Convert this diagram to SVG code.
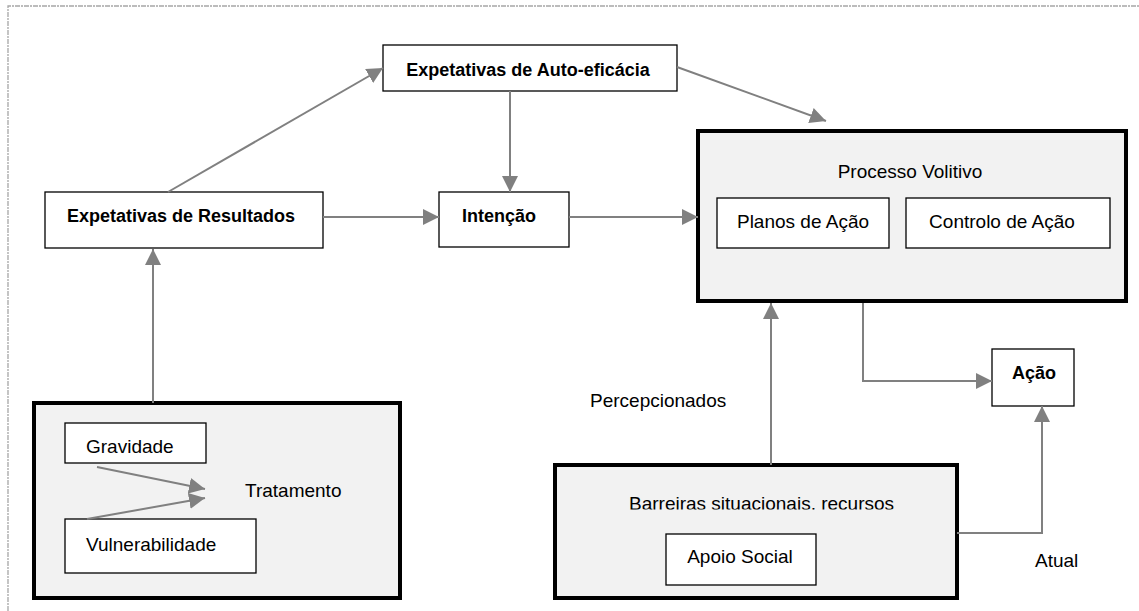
<svg xmlns="http://www.w3.org/2000/svg" width="1139" height="611" viewBox="0 0 1139 611">
<style>
text{font-family:"Liberation Sans",Arial,sans-serif;fill:#000}
.r{font-size:19px}
.b{font-size:18px;font-weight:bold}
.m{text-anchor:middle}
.box{fill:#fff;stroke:#000;stroke-width:1.3}
.grp{fill:#f2f2f2;stroke:#000;stroke-width:4}
.c{fill:none;stroke:#808080;stroke-width:2}
.frame{fill:none;stroke:#a6a6a6;stroke-width:1.3;stroke-dasharray:5 1 2 1}
</style>
<defs>
<marker id="ah" markerUnits="userSpaceOnUse" markerWidth="16" markerHeight="16" refX="16" refY="8" orient="auto">
<path d="M0,0 L16,8 L0,16 Z" fill="#808080"/>
</marker>
<clipPath id="clipB"><rect x="555" y="465" width="402" height="44.5"/></clipPath>
</defs>
<path class="frame" d="M8,611 V6 H1139"/>

<g id="n-tratamento">
<rect class="grp" x="34" y="403" width="366" height="195"/>
<text class="r" x="245" y="497">Tratamento</text>
</g>
<g id="n-gravidade">
<rect class="box" x="65" y="423" width="141" height="40"/>
<text class="r" x="86" y="453">Gravidade</text>
</g>
<g id="n-vulnerabilidade">
<rect class="box" x="65" y="519" width="191" height="54"/>
<text class="r" x="86" y="551">Vulnerabilidade</text>
</g>
<g id="n-resultados">
<rect class="box" x="45" y="192" width="278" height="56"/>
<text class="b m" x="181" y="222">Expetativas de Resultados</text>
</g>
<g id="n-autoeficacia">
<rect class="box" x="383" y="45" width="294" height="46"/>
<text class="b m" x="528" y="76">Expetativas de Auto-eficácia</text>
</g>
<g id="n-intencao">
<rect class="box" x="439" y="192" width="130" height="55"/>
<text class="b m" x="499" y="222">Intenção</text>
</g>
<g id="n-volitivo">
<rect class="grp" x="698" y="131" width="428" height="170"/>
<text class="r m" x="910" y="178">Processo Volitivo</text>
</g>
<g id="n-planos">
<rect class="box" x="717" y="198" width="172" height="50"/>
<text class="r m" x="803" y="228">Planos de Ação</text>
</g>
<g id="n-controlo">
<rect class="box" x="906" y="198" width="204" height="50"/>
<text class="r m" x="1002" y="228">Controlo de Ação</text>
</g>
<g id="n-acao">
<rect class="box" x="992" y="349" width="82" height="57"/>
<text class="b m" x="1034" y="379">Ação</text>
</g>
<g id="n-barreiras">
<rect class="grp" x="555" y="465" width="402" height="133"/>
<text class="r" x="629" y="510" clip-path="url(#clipB)">Barreiras situacionais, recursos</text>
</g>
<g id="n-apoio">
<rect class="box" x="666" y="534" width="150" height="51"/>
<text class="r m" x="740" y="563">Apoio Social</text>
</g>
<g id="labels">
<text class="r" x="590" y="407">Percepcionados</text>
<text class="r" x="1035" y="567">Atual</text>
</g>

<g id="connectors">
<path class="c" marker-end="url(#ah)" d="M153,403 V249"/>
<path class="c" marker-end="url(#ah)" d="M168,192 L383,68"/>
<path class="c" marker-end="url(#ah)" d="M677,67 L826,121"/>
<path class="c" marker-end="url(#ah)" d="M510,91 V192"/>
<path class="c" marker-end="url(#ah)" d="M323,217 H439"/>
<path class="c" marker-end="url(#ah)" d="M569,217 H698"/>
<path class="c" marker-end="url(#ah)" d="M97,467 L205,489"/>
<path class="c" marker-end="url(#ah)" d="M87,519 L205,498"/>
<path class="c" marker-end="url(#ah)" d="M771,465 V303"/>
<path class="c" marker-end="url(#ah)" d="M863,303 V381 H992"/>
<path class="c" marker-end="url(#ah)" d="M957,533 H1042 V406"/>
</g>
</svg>
